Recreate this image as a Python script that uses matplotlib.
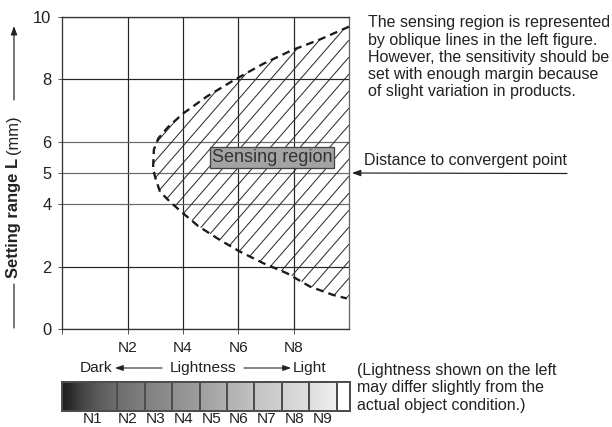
import numpy as np
import matplotlib
matplotlib.use("Agg")
import matplotlib.pyplot as plt
from matplotlib.patches import Rectangle
from matplotlib.collections import LineCollection

DPI = 130
W, H = 612, 427


def pt(px):
    return px * 72.0 / DPI


def fx(px):
    return px / W


def fy(py):
    return 1 - py / H


plt.rcParams['font.family'] = ['Liberation Sans', 'DejaVu Sans']

# ---------------- data ----------------
y_ticks = [0, 2, 4, 5, 6, 8, 10]
x_ticks = [2, 4, 6, 8]
x_tick_labels = ['N2', 'N4', 'N6', 'N8']

# boundary of the sensing region (x = lightness, y = setting range in mm)
curve_x = [10.0, 8.95, 7.95, 6.9, 5.85, 4.86, 4.01, 3.47, 3.11, 2.95, 2.92,
           3.0, 3.17, 3.53, 3.95, 4.55, 5.34, 6.06, 6.90, 7.75, 8.59, 9.43, 9.92]
curve_y = [9.69, 9.28, 8.94, 8.5, 7.98, 7.45, 6.91, 6.48, 6.11, 5.75, 5.15,
           4.85, 4.40, 4.08, 3.75, 3.30, 2.85, 2.48, 2.11, 1.79, 1.36, 1.09, 0.98]

convergent_distance = 5

lightness_labels = ['N1', 'N2', 'N3', 'N4', 'N5', 'N6', 'N7', 'N8', 'N9']
lightness_grays = [0.11, 0.32, 0.43, 0.50, 0.56, 0.62, 0.69, 0.76, 0.82, 0.87, 0.94]

# ---------------- layout ----------------
XMIN, XMAX = -0.37, 10.0
YMIN, YMAX = 0, 10
TXT = '#222222'

fig = plt.figure(figsize=(W / DPI, H / DPI), dpi=DPI)
fig.patch.set_facecolor('white')

AX_L, AX_R, AX_T, AX_B = 62, 349, 17, 329
ax = fig.add_axes([fx(AX_L), fy(AX_B), fx(AX_R) - fx(AX_L), (AX_B - AX_T) / H])
ax.set_xlim(XMIN, XMAX)
ax.set_ylim(YMIN, YMAX)
ax.set_xticks(x_ticks)
ax.set_xticklabels(x_tick_labels)
ax.set_xticks([XMIN], minor=True)
ax.set_yticks(y_ticks)
ax.set_yticklabels([str(v) for v in y_ticks])
ax.tick_params(which='both', direction='out', length=pt(4.5),
               width=pt(1.0), color='#555555', labelcolor=TXT)
ax.tick_params(axis='y', labelsize=pt(16.5), pad=pt(6))
ax.tick_params(axis='x', labelsize=pt(15.5), pad=pt(8))

ax.grid(True, color='#262626', lw=pt(1.2))
for v, gl in zip(y_ticks, ax.get_ygridlines()):
    if v in (4, 5, 6):
        gl.set_color('#6a6a6a')
for name, sp in ax.spines.items():
    sp.set_color('#333333')
    sp.set_linewidth(pt(1.3))
ax.spines['right'].set_color('#666666')
ax.set_axisbelow(True)

# hatched region (oblique lines clipped to the region)
region = ax.fill_betweenx(curve_y, curve_x, XMAX, facecolor='none',
                          linewidth=0, zorder=1.5)
sx = (AX_R - AX_L) / (XMAX - XMIN)      # px per x unit
sy = (AX_B - AX_T) / (YMAX - YMIN)      # px per y unit
slope = np.tan(np.radians(49)) * sx / sy
step = 17.0 / sy
offsets = np.arange(9.26 + 20 * step, -25, -step)
segs = [[(XMIN, c + slope * (XMIN - XMAX)), (XMAX, c)] for c in offsets]
hatch = LineCollection(segs, colors='#2a2a2a', linewidths=pt(1.0), zorder=1.6)
ax.add_collection(hatch)
hatch.set_clip_path(region.get_paths()[0], ax.transData)

ax.plot(curve_x, curve_y, color='#1a1a1a', lw=pt(2.3), ls=(0, (3.4, 2.2)),
        dash_capstyle='butt', zorder=3, clip_on=False)

ax.text(7.21, 5.49, 'Sensing region', ha='center', va='center',
        fontsize=pt(18), color='#333333', zorder=4,
        bbox=dict(boxstyle='square,pad=0.1', fc='#a3a3a3', ec='#444444',
                  lw=pt(1.3)))

# distance to convergent point
fig.text(fx(364), fy(161), 'Distance to convergent point', ha='left',
         va='center', fontsize=pt(16), color=TXT)
ax.annotate('', xy=(1.01, convergent_distance),
            xycoords=('axes fraction', 'data'),
            xytext=(fx(567), fy(173.5)), textcoords='figure fraction',
            arrowprops=dict(arrowstyle='-|>,head_length=0.55,head_width=0.2',
                            color='#222222', lw=pt(1.2), shrinkA=0, shrinkB=0,
                            mutation_scale=pt(13)),
            annotation_clip=False)

# explanatory paragraph
fig.text(fx(368), fy(15.5), 'The sensing region is represented\n'
         'by oblique lines in the left figure.\n'
         'However, the sensitivity should be\n'
         'set with enough margin because\n'
         'of slight variation in products.',
         ha='left', va='top', fontsize=pt(16), color=TXT, linespacing=1.17)

# y label with arrow lines
t1 = fig.text(fx(14), fy(278), 'Setting range L', rotation=90, ha='center',
              va='bottom', fontweight='bold', fontsize=pt(16.5), color=TXT)
ax.annotate('(mm)', xy=(0.5, 1), xycoords=t1, xytext=(0, pt(4)),
            textcoords='offset points', rotation=90, ha='center',
            va='bottom', fontsize=pt(16.5), color=TXT)
ax.annotate('', xy=(fx(14), fy(26)), xycoords='figure fraction',
            xytext=(fx(14), fy(100)), textcoords='figure fraction',
            arrowprops=dict(arrowstyle='-|>,head_length=0.55,head_width=0.2',
                            color='#222222', lw=pt(1.2), shrinkA=0, shrinkB=0,
                            mutation_scale=pt(13)),
            annotation_clip=False)
ax.annotate('', xy=(fx(14), fy(284)), xycoords='figure fraction',
            xytext=(fx(14), fy(328)), textcoords='figure fraction',
            arrowprops=dict(arrowstyle='-', color='#222222', lw=pt(1.2),
                            shrinkA=0, shrinkB=0),
            annotation_clip=False)

# Dark <- Lightness -> Light
row_y = fy(368)
fig.text(fx(96), row_y, 'Dark', ha='center', va='center', fontsize=pt(15.5), color=TXT)
fig.text(fx(203), row_y, 'Lightness', ha='center', va='center', fontsize=pt(15.5), color=TXT)
fig.text(fx(310), row_y, 'Light', ha='center', va='center', fontsize=pt(15.5), color=TXT)
arrow_kw = dict(arrowstyle='-|>,head_length=0.55,head_width=0.2', color='#222222',
                lw=pt(1.1), shrinkA=0, shrinkB=0, mutation_scale=pt(12))
ax.annotate('', xy=(fx(115), row_y), xycoords='figure fraction',
            xytext=(fx(162), row_y), textcoords='figure fraction',
            arrowprops=arrow_kw, annotation_clip=False)
ax.annotate('', xy=(fx(291), row_y), xycoords='figure fraction',
            xytext=(fx(244), row_y), textcoords='figure fraction',
            arrowprops=arrow_kw, annotation_clip=False)

# lightness bar
bax = fig.add_axes([fx(62), fy(411), fx(350) - fx(62), (411 - 382) / H])
bax.axis('off')
cell_edges = np.linspace(0.63, 9.52, 10)
bounds = np.concatenate([[XMIN], cell_edges])
xs = np.linspace(XMIN, cell_edges[-1], 800)
grad = np.interp(xs, bounds, lightness_grays)
bax.imshow(grad[None, :], cmap='gray', vmin=0, vmax=1, aspect='auto',
           extent=(XMIN, cell_edges[-1], 0, 1), interpolation='bilinear')
bax.set_xlim(XMIN, XMAX)
bax.set_ylim(0, 1)
bax.vlines(cell_edges, 0, 1, color='#4d4d4d', lw=pt(2.0))
bax.add_patch(Rectangle((XMIN, 0), XMAX - XMIN, 1, fill=False, ec='#4d4d4d',
                        lw=pt(2.0), clip_on=False))
label_pos = [0.72] + list(range(2, 10))
for lab, xp in zip(lightness_labels, label_pos):
    bax.text(xp, -0.28, lab, transform=bax.get_xaxis_transform(),
             ha='center', va='center', fontsize=pt(15.5), color=TXT)

fig.text(fx(357), fy(363), '(Lightness shown on the left\n'
         'may differ slightly from the\n'
         'actual object condition.)',
         ha='left', va='top', fontsize=pt(16), color=TXT, linespacing=1.2)

fig.savefig('out.png', dpi=DPI)
